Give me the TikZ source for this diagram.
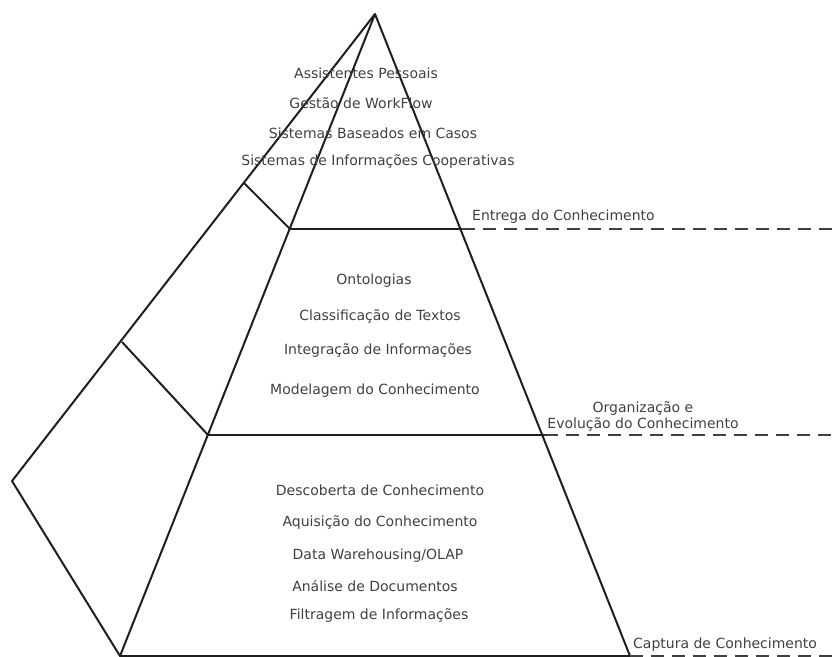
\documentclass[tikz,border=0pt]{standalone}
\usepackage{fontspec}
\setmainfont{DejaVu Sans}
\begin{document}
\begin{tikzpicture}[x=1pt,y=-1pt,
  edge/.style={line width=2pt,color=black!88,line join=round},
  levelline/.style={line width=2.4pt,color=black!75,dash pattern=on 13pt off 8pt},
  lbl/.style={font=\fontsize{14}{16}\selectfont,text=black!75,inner sep=0pt},
  side/.style={lbl,anchor=west}]
\useasboundingbox (0,0) rectangle (832,656);
% vertices
\coordinate (apex) at (375,14);
\coordinate (bl) at (120,656);
\coordinate (br) at (630,656);
\coordinate (ol) at (12,481);
\coordinate (l1) at (290,229);
\coordinate (r1) at (462,229);
\coordinate (l2) at (208,435);
\coordinate (r2) at (545,435);
\coordinate (o1) at (244,183);
\coordinate (o2) at (122,342);
\coordinate (e1) at (832,229);
\coordinate (e2) at (832,435);
\coordinate (e3) at (832,656);
% pyramid
\draw[edge] (apex) -- (br) -- (bl) -- cycle;
\draw[edge] (apex) -- (ol) -- (bl);
\draw[edge] (o1) -- (l1);
\draw[edge] (o2) -- (l2);
\draw[edge] (l1) -- (r1);
\draw[edge] (l2) -- (r2);
\draw[levelline] (r1) -- (e1);
\draw[levelline] (r2) -- (e2);
\draw[levelline] (br) -- (e3);
% texts
\node[lbl] (t1) at (366,73) {Assistentes Pessoais};
\node[lbl] (t2) at (361,103) {Gestão de WorkFlow};
\node[lbl] (t3) at (373,133) {Sistemas Baseados em Casos};
\node[lbl] (t4) at (378,162) {Sistemas de Informações Cooperativas};
\node[side] (s1) at (472,217) {Entrega do Conhecimento};
\node[lbl] (t5) at (374,281) {Ontologias};
\node[lbl] (t6) at (380,316) {Classificação de Textos};
\node[lbl] (t7) at (378,351) {Integração de Informações};
\node[lbl] (t8) at (375,391) {Modelagem do Conhecimento};
\node[lbl,align=center] (s2) at (643,416) {Organização e\\Evolução do Conhecimento};
\node[lbl] (t9) at (380,490) {Descoberta de Conhecimento};
\node[lbl] (t10) at (380,523) {Aquisição do Conhecimento};
\node[lbl] (t11) at (378,556) {Data Warehousing/OLAP};
\node[lbl] (t12) at (375,586) {Análise de Documentos};
\node[lbl] (t13) at (379,616) {Filtragem de Informações};
\node[side] (s3) at (633,645) {Captura de Conhecimento};
\end{tikzpicture}
\end{document}
